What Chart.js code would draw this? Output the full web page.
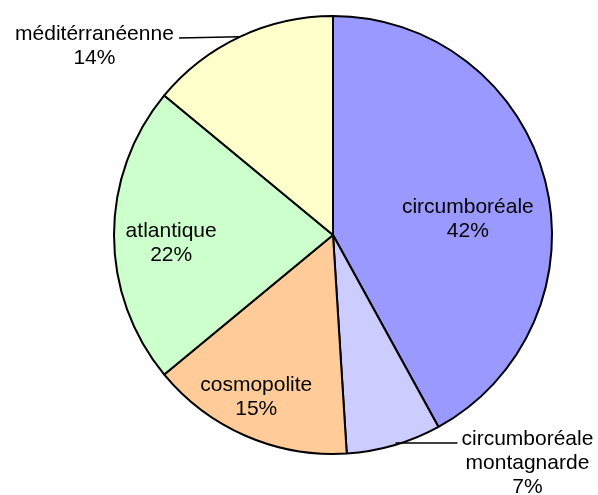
<!DOCTYPE html>
<html>
<head>
<meta charset="utf-8">
<script src="https://cdn.jsdelivr.net/npm/chart.js@4/dist/chart.umd.min.js"></script>
<style>
html,body{margin:0;padding:0;background:#fff;}
canvas{display:block;}
</style>
</head>
<body>
<canvas id="c" width="598" height="495"></canvas>
<script>
const categories = ['circumboréale', 'circumboréale montagnarde', 'cosmopolite', 'atlantique', 'méditérranéenne'];
const values = [42, 7, 15, 22, 14];
const colors = ['#9999FF', '#CCCCFF', '#FFCC99', '#CCFFCC', '#FFFFCC'];

// label layout: angle shift (deg) from slice mid-angle and radius factor; outside labels get a leader
const labelLayout = [
  {dAng: 7.7, rf: 0.62},
  {absAng: 139.6, rf: 1.37, leader: {edgeY: 443, endDx: -70}},
  {dAng: 1.9, rf: 0.82},
  {dAng: -3, rf: 0.74},
  {absAng: 308.4, rf: 1.39, leader: {mid: true, endX: 179, endY: 38}}
];

const labelPlugin = {
  id: 'pieLabels',
  afterDatasetsDraw(chart) {
    const ctx = chart.ctx;
    const meta = chart.getDatasetMeta(0);
    const total = values.reduce((a, b) => a + b, 0);
    ctx.save();
    ctx.font = '21px "Liberation Sans", Arial, sans-serif';
    ctx.fillStyle = '#000';
    ctx.textAlign = 'center';
    ctx.textBaseline = 'middle';
    meta.data.forEach((arc, i) => {
      const p = arc.getProps(['x', 'y', 'startAngle', 'endAngle', 'outerRadius'], true);
      const mid = (p.startAngle + p.endAngle) / 2; // canvas radians
      const lay = labelLayout[i];
      let ang;
      if (lay.absAng !== undefined) ang = lay.absAng * Math.PI / 180 - Math.PI / 2;
      else ang = mid + lay.dAng * Math.PI / 180;
      const r = p.outerRadius * lay.rf;
      const cx = p.x + Math.cos(ang) * r;
      const cy = p.y + Math.sin(ang) * r;
      const lines = categories[i].split(' ').concat([Math.round(values[i] / total * 100) + '%']);
      const lh = 24;
      const y0 = cy - (lines.length - 1) * lh / 2;
      lines.forEach((t, k) => ctx.fillText(t, cx, y0 + k * lh));
      if (lay.leader) {
        ctx.strokeStyle = '#000';
        ctx.lineWidth = 1.5;
        ctx.beginPath();
        if (lay.leader.mid) {
          ctx.moveTo(p.x + Math.cos(mid) * p.outerRadius, p.y + Math.sin(mid) * p.outerRadius);
          ctx.lineTo(lay.leader.endX, lay.leader.endY);
        } else {
          const dy = lay.leader.edgeY - p.y;
          const ex = p.x + Math.sqrt(Math.max(p.outerRadius * p.outerRadius - dy * dy, 0));
          ctx.moveTo(ex - 6, lay.leader.edgeY);
          ctx.lineTo(cx + lay.leader.endDx, lay.leader.edgeY);
        }
        ctx.stroke();
      }
    });
    ctx.restore();
  }
};

new Chart(document.getElementById('c'), {
  type: 'pie',
  data: {
    labels: categories,
    datasets: [{
      data: values,
      backgroundColor: colors,
      borderColor: '#000',
      borderWidth: 2
    }]
  },
  options: {
    responsive: false,
    animation: false,
    layout: {padding: {left: 113, right: 45, top: 15, bottom: 40}},
    plugins: {legend: {display: false}, tooltip: {enabled: false}}
  },
  plugins: [labelPlugin]
});
</script>
</body>
</html>
